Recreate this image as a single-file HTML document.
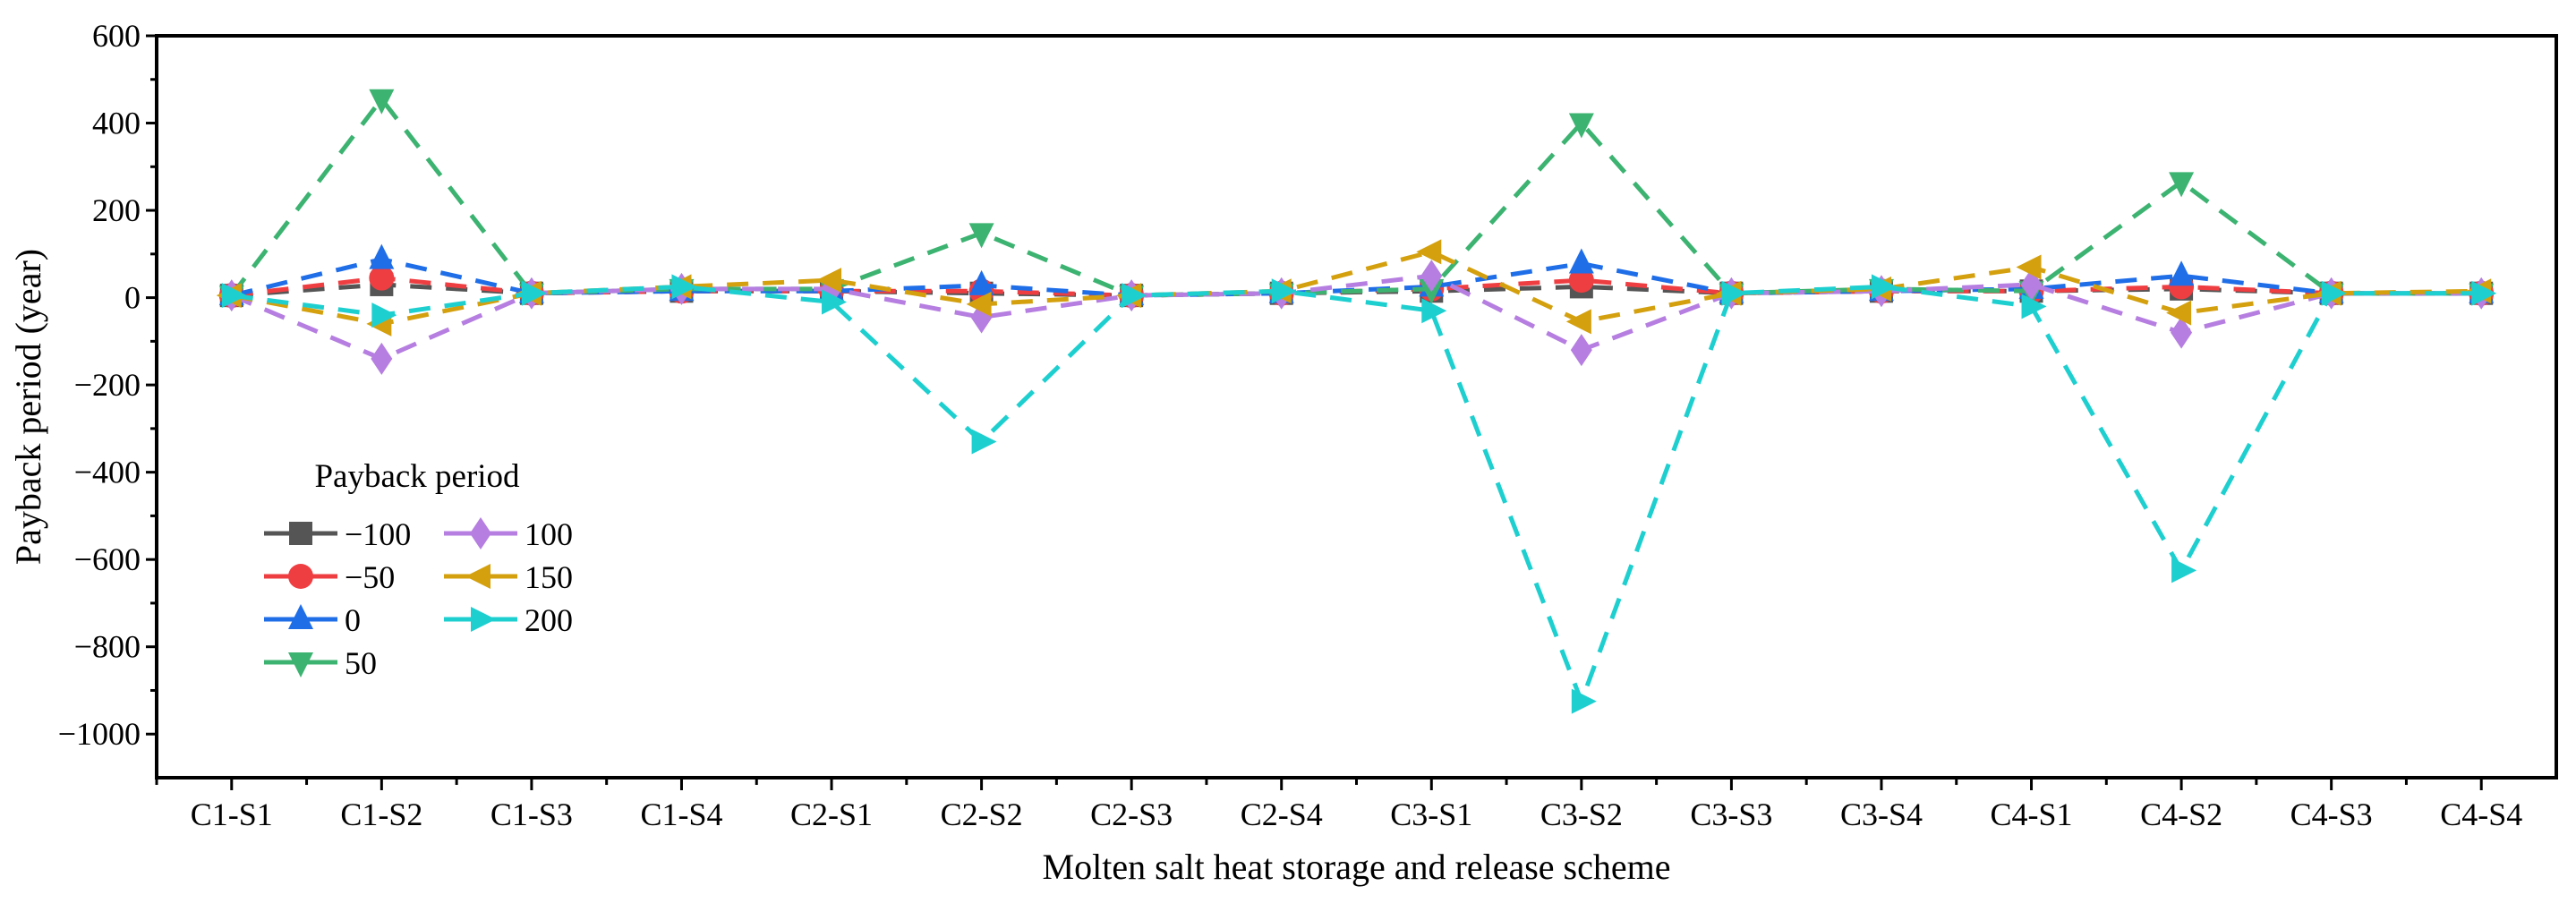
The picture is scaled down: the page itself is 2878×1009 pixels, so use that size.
<!DOCTYPE html>
<html><head><meta charset="utf-8"><style>
html,body{margin:0;padding:0;background:#fff;}
svg{display:block;}
svg text{font-family:"Liberation Serif",serif;}
</style></head><body>
<svg id="chart" width="2878" height="1009" viewBox="0 0 2878 1009">
<g id="plot"></g>
</svg>
<script>
const categories = ["C1-S1","C1-S2","C1-S3","C1-S4","C2-S1","C2-S2","C2-S3","C2-S4","C3-S1","C3-S2","C3-S3","C3-S4","C4-S1","C4-S2","C4-S3","C4-S4"];
const seriesNames = ["\u2212100","\u221250","0","50","100","150","200"];
const sNeg100 = [5,30,10,15,15,10,5,10,15,25,10,15,15,20,10,10];
const sNeg50 = [5,45,10,15,15,15,5,10,20,40,10,15,15,25,10,10];
const s0 = [5,88,10,15,15,28,5,10,25,78,10,15,20,50,10,10];
const s50 = [5,455,10,20,20,148,5,10,20,400,10,20,15,265,10,10];
const s100 = [5,-140,10,20,20,-45,5,10,50,-120,10,15,30,-80,10,10];
const s150 = [5,-60,10,25,40,-15,5,15,105,-55,10,20,70,-35,10,15];
const s200 = [5,-40,10,25,-10,-330,5,15,-30,-925,10,25,-20,-625,10,10];
const yTicks = [600,400,200,0,-200,-400,-600,-800,-1000];
const yTickLabels = ["600","400","200","0","\u2212200","\u2212400","\u2212600","\u2212800","\u22121000"];

const L=175,R=2856,T=40,B=869, yMin=-1100,yMax=600;
const xs=i=>L+(i+0.5)*(R-L)/categories.length;
const ys=v=>T+(yMax-v)/(yMax-yMin)*(B-T);
const NS="http://www.w3.org/2000/svg";
const svg=document.getElementById('chart');
function mk(tag,attrs,parent){const e=document.createElementNS(NS,tag);for(const k in attrs)e.setAttribute(k,attrs[k]);(parent||svg).appendChild(e);return e;}

const seriesData=[sNeg100,sNeg50,s0,s50,s100,s150,s200];
const colors=["#555555","#ef3e42","#1f6ee8","#3cb371","#b57ee0","#d4a00e","#1ecfd0"];
const shapes=["square","circle","up","down","diamond","left","right"];

function marker(shape,x,y,c,parent){
  const s=13;let e;
  if(shape==="square")e=mk('rect',{x:x-s,y:y-s,width:2*s,height:2*s,fill:c},parent);
  else if(shape==="circle")e=mk('circle',{cx:x,cy:y,r:s+1,fill:c},parent);
  else{
    let p;
    if(shape==="up")p=[[x,y-17],[x+14,y+11],[x-14,y+11]];
    else if(shape==="down")p=[[x,y+17],[x+14,y-11],[x-14,y-11]];
    else if(shape==="left")p=[[x-17,y],[x+11,y-14],[x+11,y+14]];
    else if(shape==="right")p=[[x+17,y],[x-11,y-14],[x-11,y+14]];
    else p=[[x,y-18],[x+12,y],[x,y+18],[x-12,y]];
    e=mk('polygon',{points:p.map(q=>q.join(',')).join(' '),fill:c},parent);
  }
  return e;
}

const plot=document.getElementById('plot');
seriesData.forEach((d,si)=>{
  const g=mk('g',{},plot);
  
  
  const pl=mk('polyline',{points:d.map((v,i)=>xs(i)+','+ys(v)).join(' '),fill:'none',stroke:colors[si],'stroke-width':5,'stroke-dasharray':'24,16'},g);
  
  
  d.forEach((v,i)=>{
    const m=marker(shapes[si],xs(i),ys(v),colors[si],g);
    
    
  });
});

const frame=mk('rect',{x:L,y:T,width:R-L,height:B-T,fill:'none',stroke:'#000','stroke-width':4});



yTicks.forEach((v,i)=>{
  mk('line',{x1:L-12,x2:L,y1:ys(v),y2:ys(v),stroke:'#000','stroke-width':3});
  const t=mk('text',{x:L-18,y:ys(v)+12,'text-anchor':'end','font-size':36,fill:'#000'});
  t.textContent=yTickLabels[i];
  
  
});
for(let v=yMax-100;v>yMin;v-=200){mk('line',{x1:L-7,x2:L,y1:ys(v),y2:ys(v),stroke:'#000','stroke-width':3});}
categories.forEach((c,i)=>{
  mk('line',{x1:xs(i),x2:xs(i),y1:B,y2:B+14,stroke:'#000','stroke-width':3});
  mk('line',{x1:xs(i)-(R-L)/32,x2:xs(i)-(R-L)/32,y1:B,y2:B+8,stroke:'#000','stroke-width':3});
  const t=mk('text',{x:xs(i),y:922,'text-anchor':'middle','font-size':36,fill:'#000'});
  t.textContent=c;
  
  
});
const xt=mk('text',{x:(L+R)/2,y:982,'text-anchor':'middle','font-size':40,fill:'#000'});
xt.textContent="Molten salt heat storage and release scheme";


const yt=mk('text',{x:0,y:0,'text-anchor':'middle','font-size':40,fill:'#000',transform:'translate(45,'+((T+B)/2)+') rotate(-90)'});
yt.textContent="Payback period (year)";



const lg=mk('g',{});


const lt=mk('text',{x:466,y:544,'text-anchor':'middle','font-size':37,fill:'#000'},lg);
lt.textContent="Payback period";


const rowsY=[596,644,692,740];
seriesNames.forEach((n,si)=>{
  const col=si<4?0:1,row=si<4?si:si-4;
  const x0=col?496:295,y=rowsY[row];
  const e=mk('g',{},lg);
  
  
  mk('line',{x1:x0,x2:x0+82,y1:y,y2:y,stroke:colors[si],'stroke-width':5},e);
  marker(shapes[si],x0+41,y,colors[si],e);
  const t=mk('text',{x:x0+90,y:y+13,'font-size':36,fill:'#000'},e);
  t.textContent=n;
});
</script>
</body></html>
